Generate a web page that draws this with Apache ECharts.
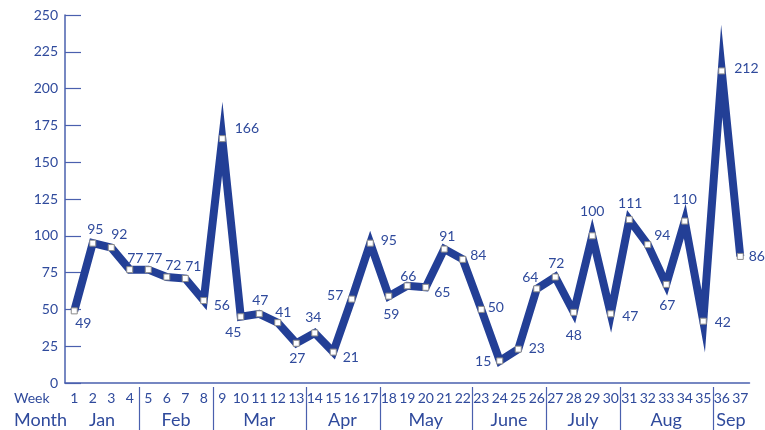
<!DOCTYPE html>
<html><head><meta charset="utf-8">
<script src="https://cdn.jsdelivr.net/npm/echarts@6/dist/echarts.min.js"></script>
<style>html,body{margin:0;padding:0;background:#fff}#c{width:765px;height:430px}</style>
</head><body><div id="c"></div>
<script>
const weeks = ['1','2','3','4','5','6','7','8','9','10','11','12','13','14','15','16','17','18','19','20','21','22','23','24','25','26','27','28','29','30','31','32','33','34','35','36','37'];
const values = [49,95,92,77,77,72,71,56,166,45,47,41,27,34,21,57,95,59,66,65,91,84,50,15,23,64,72,48,100,47,111,94,67,110,42,212,86];
const months = ['Jan','Feb','Mar','Apr','May','June','July','Aug','Sep'];
const monthFirstWeek = [1,5,9,14,18,23,27,31,36];
const monthLastWeek = [4,8,13,17,22,26,30,35,37];

// label placement (style only): [position, dx, dy]
const labelLayout = [
 ['bottom',9,-3],['top',2.5,2],['top',8,2],['top',5.5,4],['top',6,4],['top',6.5,4],['top',8,3.5],['right',1.5,5],
 ['right',4,-10],['bottom',-7.5,0],['top',1,2],['top',5.5,5],['bottom',1,0],['top',-1.5,0],['right',1,5],['left',0,-4],
 ['right',2,-3],['bottom',2.5,3],['top',1,6],['right',0,5],['top',3,3],['right',-1,-4],['right',-2,-2],['left',0,1],
 ['right',2,-1],['top',-6.5,4],['top',1,2],['bottom',0,8],['top',0,-9],['right',3,3],['top',1,-1],['right',-2,-9],
 ['bottom',1,6],['top',0,-6],['right',3,1],['right',4,-2],['right',0,0]
];

const TXT = '#2f4a9c', LINE = '#233f96', AX = '#4a60ae';
const FONT = 'Lato, "Open Sans", sans-serif';

const chart = echarts.init(document.getElementById('c'), null, {renderer:'canvas'});
const seriesData = values.map((v,i)=>({
  value: v,
  label: {position: labelLayout[i][0], offset: [labelLayout[i][1], labelLayout[i][2]]}
}));

chart.setOption({
  animation: false,
  textStyle: {fontFamily: FONT},
  grid: {left: 65, right: 15.5, top: 15, bottom: 47, containLabel: false},
  xAxis: {
    type: 'category', data: weeks, boundaryGap: true,
    axisLine: {lineStyle: {color: AX, width: 1.5}},
    axisTick: {inside: true, length: 7, interval: 0, lineStyle: {color: AX}},
    axisLabel: {interval: 0, color: TXT, fontSize: 14, margin: 8, fontFamily: FONT}
  },
  yAxis: {
    type: 'value', min: 0, max: 250, interval: 25,
    splitLine: {show: false},
    axisLine: {show: true, lineStyle: {color: AX, width: 1.5}},
    axisTick: {show: true, inside: true, length: 16, lineStyle: {color: AX, width: 1.2}},
    axisLabel: {color: TXT, fontSize: 14, margin: 7, fontFamily: FONT}
  },
  series: [{
    type: 'line', data: seriesData,
    lineStyle: {color: LINE, width: 8, join: 'miter', miterLimit: 30, cap: 'butt'},
    symbol: 'rect', symbolSize: 6, showAllSymbol: true,
    itemStyle: {color: '#ffffff', borderColor: '#8a8a8a', borderWidth: 1},
    label: {show: true, color: TXT, fontSize: 14, fontFamily: FONT, distance: 5},
    emphasis: {disabled: true}, z: 3
  }]
});

function px(i){ return chart.convertToPixel({gridIndex:0}, [i, 0]); }
const graphics = [];
graphics.push({type:'text', x: 14, y: 398, style:{text:'Week', fill: TXT, font: '14px ' + FONT, textVerticalAlign:'middle'}});
graphics.push({type:'text', x: 14, y: 420, style:{text:'Month', fill: TXT, font: '18px ' + FONT, textVerticalAlign:'middle'}});
const baseY = px(0)[1];
months.forEach((m, k) => {
  const a = px(monthFirstWeek[k]-1)[0], b = px(monthLastWeek[k]-1)[0];
  graphics.push({type:'text', x: (a+b)/2, y: 420, style:{text: m, fill: TXT, font: '18px ' + FONT, textAlign:'center', textVerticalAlign:'middle'}});
  if (k < months.length - 1) {
    const nx = px(monthFirstWeek[k+1]-1)[0];
    const sx = Math.round((b + nx)/2) + 0.5;
    graphics.push({type:'line', shape:{x1:sx, y1: baseY + 4, x2: sx, y2: 430}, style:{stroke: AX, lineWidth: 1.2}});
  }
});
chart.setOption({graphic: graphics});
</script>
</body></html>
